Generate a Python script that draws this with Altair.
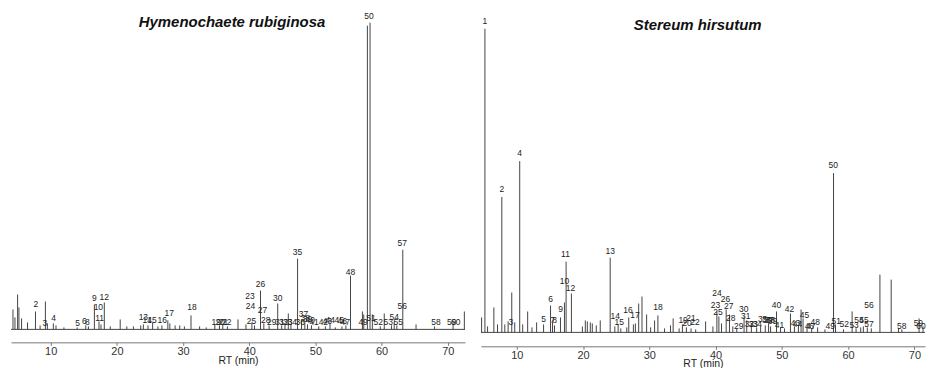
import altair as alt
import pandas as pd

FONT = "Liberation Sans"
LINE = "#444444"
TICKS = [10, 20, 30, 40, 50, 60, 70]

# ---------------- Hymenochaete rubiginosa ----------------
L_TITLE = "Hymenochaete rubiginosa"
L_RT = [4.3, 4.6, 5.0, 5.2, 5.6, 6.5, 7.7, 8.4, 9.2, 9.5, 10.4, 10.8, 12.0, 14.0, 15.3, 15.7,
        16.6, 17.3, 17.6, 18.1, 19.0, 20.5, 21.5, 22.5, 23.6, 24.0, 24.7, 25.4, 26.2, 26.8,
        27.7, 28.0, 28.8, 29.5, 30.2, 31.2, 32.5, 33.5, 34.8, 35.5, 36.0, 36.7, 38.3, 39.5,
        40.4, 40.8, 41.7, 42.2, 43.0, 44.3, 44.9, 45.4, 45.9, 46.3, 47.3, 47.9, 48.4, 48.8,
        49.4, 50.5, 51.5, 52.2, 53.0, 54.0, 54.6, 55.3, 57.1, 57.3, 57.85, 58.25, 58.6, 59.8,
        60.4, 61.5, 61.9, 62.3, 63.2, 65.2, 68.0, 70.8, 72.5]
L_H = [20, 12, 35, 22, 11, 7, 18, 4, 28, 6, 6, 4, 2, 2, 4, 3,
       25, 8, 5, 27, 3, 10, 3, 3, 4, 5, 4, 7, 3, 4,
       9, 6, 4, 4, 3, 14, 3, 2, 5, 4, 5, 3, 10, 5,
       7, 4, 39, 6, 4, 26, 4, 5, 16, 5, 71, 9, 7, 5,
       4, 3, 3, 6, 2, 3, 4, 54, 18, 15, 305, 308, 15, 3,
       16, 4, 8, 4, 80, 5, 3, 6, 18]
L_LAB = ["2", "3", "4", "5", "6", "8", "9", "10", "11", "12", "13", "14", "15", "16", "17",
         "18", "19", "20", "21", "22", "23", "24", "25", "26", "27", "28", "29", "30", "31",
         "32", "33", "34", "35", "36", "37", "38", "39", "40", "41", "42", "43", "44", "45",
         "46", "47", "48", "49", "50", "51", "52", "53", "54", "55", "56", "57", "58", "59", "60"]
L_LAB_RT = [7.75, 9.1, 10.45, 14.05, 15.1, 15.55, 16.6, 17.2, 17.4, 18.1, 24.0, 24.6, 25.3,
            26.85, 27.9, 31.35, 35.0, 35.6, 36.1, 36.6, 40.1, 40.2, 40.35, 41.7, 42.0, 42.5,
            43.4, 44.3, 44.6, 45.2, 45.8, 46.5, 47.3, 47.7, 48.2, 48.5, 48.8, 49.2, 49.8, 51.2,
            51.8, 52.25, 53.6, 54.05, 54.5, 55.3, 57.2, 58.1, 58.4, 59.5, 61.0, 61.9, 62.5,
            63.1, 63.1, 68.2, 70.6, 71.2]
L_LAB_Y = [25, 6, 11, 6, 8, 7, 32, 22, 11, 33, 12, 9, 9, 9, 16, 22, 7, 7, 7, 7, 34, 23, 8,
           46, 19, 9, 7, 32, 7, 7, 7, 7, 78, 7, 15, 11, 10, 9, 7, 7, 8, 9, 9, 8, 7, 58, 7,
           315, 11, 7, 7, 12, 7, 23, 87, 7, 7, 7]

# ---------------- Stereum hirsutum ----------------
R_TITLE = "Stereum hirsutum"
R_RT = [4.7, 5.2, 5.6, 6.55, 7.1, 7.75, 8.2, 8.7, 9.25, 9.7, 10.45, 10.9, 11.65, 12.3, 13.0,
        14.05, 15.1, 15.4, 15.7, 16.6, 17.2, 17.45, 18.25, 19.9, 20.35, 20.65, 21.1, 21.4,
        22.0, 22.6, 24.1, 24.8, 25.3, 25.7, 26.6, 26.9, 27.6, 27.9, 28.4, 28.9, 29.6, 30.2,
        30.8, 31.3, 32.3, 33.2, 33.6, 34.5, 35.0, 35.6, 36.3, 37.0, 38.5, 39.6, 40.2, 40.5,
        40.9, 41.6, 42.1, 42.6, 43.2, 44.3, 44.7, 45.4, 46.2, 46.8, 47.5, 48.0, 48.3, 49.2,
        49.8, 50.4, 51.3, 51.9, 52.5, 52.9, 53.2, 53.8, 54.5, 55.4, 56.5, 57.8, 58.1, 59.3,
        60.6, 61.2, 61.9, 62.3, 62.9, 63.5, 64.8, 66.5, 67.6, 68.1, 70.7, 71.3]
R_H = [15, 305, 6, 25, 8, 136, 8, 11, 40, 10, 172, 8, 21, 5, 10,
       8, 27, 10, 7, 15, 30, 71, 39, 6, 12, 11, 10, 9,
       7, 12, 75, 6, 8, 4, 5, 15, 8, 9, 29, 36, 18, 5,
       12, 17, 4, 7, 14, 4, 8, 5, 4, 3, 11, 6, 21, 16,
       9, 23, 18, 6, 4, 16, 12, 8, 5, 6, 7, 9, 6, 21,
       5, 4, 19, 6, 7, 23, 14, 5, 4, 5, 3, 160, 8, 3,
       21, 4, 5, 6, 5, 4, 58, 53, 4, 3, 14, 6]
R_LAB = [str(i) for i in range(1, 61)]
R_LAB_RT = [5.2, 7.75, 9.1, 10.45, 14.05, 15.1, 15.4, 15.7, 16.6, 17.2, 17.35, 18.1, 24.1,
            24.85, 25.45, 26.8, 27.85, 31.3, 35.1, 35.7, 36.3, 36.9, 40.0, 40.2, 40.35, 41.5,
            42.0, 42.3, 43.5, 44.25, 44.55, 45.1, 45.7, 46.3, 47.1, 47.7, 48.1, 48.3, 48.6,
            49.2, 49.65, 51.15, 52.05, 52.35, 53.4, 54.15, 54.4, 55.05, 57.3, 57.75, 58.2,
            59.4, 60.9, 61.65, 62.4, 63.15, 63.15, 68.1, 70.6, 71.0]
R_LAB_Y = [313, 144, 10, 180, 13, 34, 12, 12, 23, 52, 79, 45, 82, 16, 10, 22, 17, 25, 12, 9,
           14, 10, 27, 40, 20, 34, 26, 14, 6, 23, 16, 8, 8, 8, 13, 12, 12, 12, 11, 27, 7, 23,
           9, 8, 17, 6, 6, 10, 6, 168, 11, 8, 7, 12, 12, 27, 8, 6, 9, 6]


def panel(rt, h, lab, lab_rt, lab_y, xdom, ydom, title, title_rt, title_y, offset, title_off, width):
    peaks = pd.DataFrame({"rt": rt, "h": h})
    labels = pd.DataFrame({"lab": lab, "rt": lab_rt, "y": lab_y})
    xs = alt.Scale(domain=xdom, nice=False, zero=False)
    ys = alt.Scale(domain=ydom, nice=False, zero=False)
    ax = alt.Axis(title="RT (min)", values=TICKS, offset=offset, grid=False,
                  domainColor="#777777", tickColor="#777777", tickSize=3,
                  labelFontSize=11, titleFontSize=10.5, labelColor="#333333",
                  titleColor="#222222", titleFontWeight="normal",
                  titleY=title_off, titleBaseline="middle",
                  labelPadding=0, labelFont=FONT, titleFont=FONT)

    base = alt.Chart(pd.DataFrame({"k": [0]})).mark_rule(color=LINE, strokeWidth=1).encode(
        x=alt.XDatum(xdom[0], type="quantitative", scale=xs, axis=ax),
        x2=alt.X2Datum(xdom[1]),
        y=alt.YDatum(0, type="quantitative", scale=ys, axis=None),
    )
    spikes = alt.Chart(peaks).mark_rule(color=LINE, strokeWidth=1).encode(
        x=alt.X("rt:Q", scale=xs, axis=ax),
        y=alt.Y("h:Q", scale=ys, axis=None),
        y2=alt.Y2Datum(0),
    )
    texts = alt.Chart(labels).mark_text(
        fontSize=8.5, font=FONT, color="#222222", baseline="middle", align="center"
    ).encode(
        x=alt.X("rt:Q", scale=xs, axis=ax),
        y=alt.Y("y:Q", scale=ys, axis=None),
        text="lab:N",
    )
    ttl = alt.Chart(pd.DataFrame({"t": [title]})).mark_text(
        fontSize=15, fontWeight="bold", fontStyle="italic", font=FONT, color="#111111",
        baseline="middle", align="center"
    ).encode(
        x=alt.XDatum(title_rt, type="quantitative", scale=xs, axis=ax),
        y=alt.YDatum(title_y, type="quantitative", scale=ys, axis=None),
        text="t:N",
    )
    return alt.layer(base, spikes, texts, ttl).properties(width=width, height=323)


left = panel(L_RT, L_H, L_LAB, L_LAB_RT, L_LAB_Y, [4.0, 72.6], [-3, 320],
             L_TITLE, 37.4, 309, 10, 18, 456)
right = panel(R_RT, R_H, R_LAB, R_LAB_RT, R_LAB_Y, [4.6, 71.6], [0, 323],
              R_TITLE, 37.3, 309, 14, 17, 446)

chart = alt.hconcat(left, right, spacing=14).properties(
    padding={"left": 2, "top": 2, "right": 0, "bottom": 0}
).configure_view(stroke=None)

chart.save("out.html", embed_options={"renderer": "svg", "actions": False})
